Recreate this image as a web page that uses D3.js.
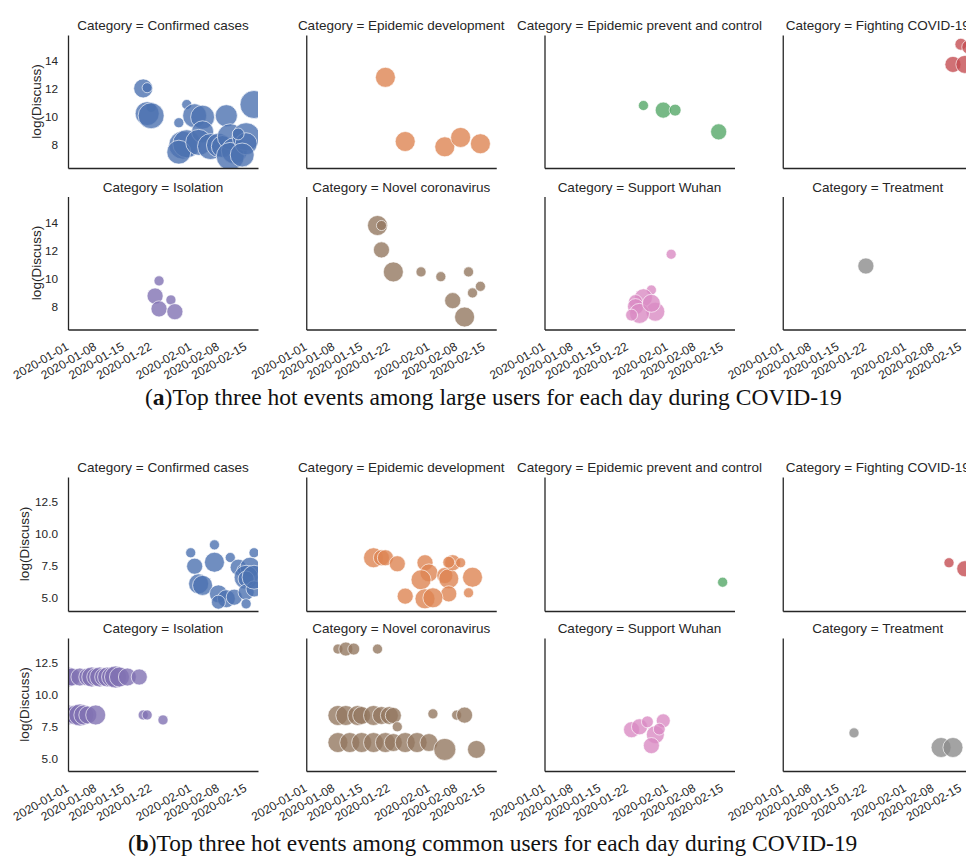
<!DOCTYPE html>
<html>
<head>
<meta charset="utf-8">
<script src="https://cdn.jsdelivr.net/npm/d3@7"></script>
<style>
  body { margin: 0; background: #fff; }
  svg { display: block; }
</style>
</head>
<body>
<svg id="chart" width="966" height="861"></svg>
<script>
// ---- categories, palette and ticks ----
const categories = [
  "Confirmed cases", "Epidemic development", "Epidemic prevent and control", "Fighting COVID-19",
  "Isolation", "Novel coronavirus", "Support Wuhan", "Treatment"
];
const palette = ["#4c72b0", "#dd8452", "#55a868", "#c44e52", "#8172b3", "#937860", "#da8bc3", "#8c8c8c"];
const xTickLabels = ["2020-01-01", "2020-01-08", "2020-01-15", "2020-01-22", "2020-02-01", "2020-02-08", "2020-02-15"];
const yTicksLarge = [8, 10, 12, 14];
const yTicksCommon = [5, 7.5, 10, 12.5];

// ---- (a) large users: [date, log(Discuss), size] ----
const largeConfirmed = [
  ["2020-01-20", 12.05, 46], ["2020-01-21", 12.1, 13], ["2020-01-22", 10.7, 13], ["2020-01-21", 10.25, 73],
  ["2020-01-22", 10.1, 86], ["2020-01-29", 9.6, 13], ["2020-01-31", 10.9, 13], ["2020-02-02", 10.1, 73],
  ["2020-02-04", 10.0, 73], ["2020-02-10", 10.1, 62], ["2020-02-17", 10.9, 100], ["2020-01-30", 8.0, 100],
  ["2020-01-31", 8.1, 100], ["2020-01-29", 7.5, 73], ["2020-02-04", 8.95, 62], ["2020-02-03", 8.2, 86],
  ["2020-02-06", 7.9, 86], ["2020-02-08", 8.0, 73], ["2020-02-09", 7.9, 62], ["2020-02-11", 8.6, 86],
  ["2020-02-12", 7.6, 86], ["2020-02-11", 7.2, 100], ["2020-02-15", 8.6, 100], ["2020-02-15", 8.1, 62],
  ["2020-02-14", 7.3, 73], ["2020-02-13", 8.8, 18]
];
const largeDevelopment = [
  ["2020-01-21", 12.84, 51], ["2020-01-26", 8.26, 51], ["2020-02-05", 7.88, 51], ["2020-02-09", 8.55, 51],
  ["2020-02-14", 8.1, 51]
];
const largePrevent = [
  ["2020-01-26", 10.83, 13], ["2020-01-31", 10.5, 33], ["2020-02-03", 10.5, 18], ["2020-02-14", 8.95, 33]
];
const largeFighting = [
  ["2020-02-13", 13.76, 33], ["2020-02-15", 15.2, 18], ["2020-02-16", 13.76, 41], ["2020-02-17", 15.0, 25]
];
const largeIsolation = [
  ["2020-01-24", 9.84, 13], ["2020-01-23", 8.76, 33], ["2020-01-24", 7.84, 33], ["2020-01-27", 8.48, 13],
  ["2020-01-28", 7.64, 33]
];
const largeNovel = [
  ["2020-01-19", 13.79, 51], ["2020-01-20", 13.79, 13], ["2020-01-20", 12.05, 33], ["2020-01-23", 10.48, 51],
  ["2020-01-30", 10.48, 13], ["2020-02-04", 10.14, 13], ["2020-02-11", 10.48, 13], ["2020-02-14", 9.45, 13],
  ["2020-02-12", 8.98, 13], ["2020-02-07", 8.43, 33], ["2020-02-10", 7.26, 51]
];
const largeSupport = [
  ["2020-02-02", 11.74, 13], ["2020-01-28", 9.19, 13], ["2020-01-26", 8.64, 41], ["2020-01-24", 8.36, 25],
  ["2020-01-24", 8.0, 33], ["2020-01-29", 7.64, 46], ["2020-01-25", 7.52, 51], ["2020-01-23", 7.4, 18],
  ["2020-01-28", 8.24, 41]
];
const largeTreatment = [["2020-01-22", 10.9, 33]];

// ---- (b) common users: [date, log(Discuss), size] ----
const commonConfirmed = [
  ["2020-02-01", 8.55, 13], ["2020-02-07", 9.17, 13], ["2020-02-11", 8.18, 13], ["2020-02-17", 8.55, 13],
  ["2020-02-02", 7.5, 33], ["2020-02-07", 7.81, 51], ["2020-02-13", 7.42, 33], ["2020-02-14", 7.24, 13],
  ["2020-02-16", 7.42, 51], ["2020-02-03", 6.12, 51], ["2020-02-04", 6.0, 51], ["2020-02-08", 5.34, 41],
  ["2020-02-10", 4.96, 41], ["2020-02-08", 4.69, 25], ["2020-02-12", 5.08, 33], ["2020-02-15", 6.64, 73],
  ["2020-02-15", 6.5, 33], ["2020-02-15", 5.47, 33], ["2020-02-15", 4.56, 13], ["2020-02-17", 5.73, 33],
  ["2020-02-17", 6.64, 73]
];
const commonDevelopment = [
  ["2020-01-18", 8.16, 51], ["2020-01-20", 8.16, 33], ["2020-01-21", 8.16, 33], ["2020-01-24", 7.69, 33],
  ["2020-01-31", 7.77, 33], ["2020-02-01", 6.98, 41], ["2020-01-30", 6.44, 51], ["2020-02-05", 6.77, 33],
  ["2020-02-06", 6.52, 51], ["2020-02-07", 7.77, 33], ["2020-02-09", 7.77, 13], ["2020-02-12", 6.64, 51],
  ["2020-02-11", 5.42, 13], ["2020-02-06", 5.34, 33], ["2020-01-26", 5.16, 33], ["2020-01-31", 4.95, 51],
  ["2020-02-02", 5.03, 51], ["2020-02-06", 7.81, 18]
];
const commonPrevent = [["2020-02-15", 6.25, 13]];
const commonFighting = [["2020-02-12", 7.77, 13], ["2020-02-16", 7.3, 33]];
const commonIsolation = [
  ["2020-01-01", 11.4, 51], ["2020-01-02", 11.4, 41], ["2020-01-04", 11.4, 41], ["2020-01-06", 11.4, 41],
  ["2020-01-07", 11.4, 51], ["2020-01-08", 11.4, 41], ["2020-01-09", 11.4, 51], ["2020-01-10", 11.4, 41],
  ["2020-01-11", 11.4, 51], ["2020-01-12", 11.4, 51], ["2020-01-13", 11.4, 62], ["2020-01-14", 11.4, 51],
  ["2020-01-16", 11.4, 41], ["2020-01-19", 11.4, 33],
  ["2020-01-01", 8.41, 51], ["2020-01-02", 8.41, 41], ["2020-01-03", 8.41, 51], ["2020-01-04", 8.41, 62],
  ["2020-01-05", 8.41, 51], ["2020-01-06", 8.41, 41], ["2020-01-08", 8.41, 51],
  ["2020-01-20", 8.41, 13], ["2020-01-21", 8.41, 13], ["2020-01-25", 8.02, 13]
];
const commonNovel = [
  ["2020-01-09", 13.6, 13], ["2020-01-11", 13.6, 25], ["2020-01-13", 13.6, 18], ["2020-01-19", 13.6, 13],
  ["2020-01-09", 8.37, 51], ["2020-01-11", 8.37, 51], ["2020-01-14", 8.37, 51], ["2020-01-15", 8.37, 41],
  ["2020-01-18", 8.37, 51], ["2020-01-20", 8.37, 41], ["2020-01-22", 8.37, 41], ["2020-01-23", 8.37, 33],
  ["2020-01-24", 7.48, 13], ["2020-02-02", 8.5, 13], ["2020-02-08", 8.4, 13], ["2020-02-10", 8.4, 33],
  ["2020-01-09", 6.24, 51], ["2020-01-12", 6.24, 51], ["2020-01-15", 6.24, 51], ["2020-01-18", 6.24, 51],
  ["2020-01-21", 6.24, 51], ["2020-01-23", 6.24, 41], ["2020-01-26", 6.24, 51], ["2020-01-29", 6.24, 51],
  ["2020-02-01", 6.24, 41], ["2020-02-05", 5.7, 62], ["2020-02-13", 5.7, 41]
];
const commonSupport = [
  ["2020-01-23", 7.25, 33], ["2020-01-25", 7.48, 33], ["2020-01-27", 7.87, 18], ["2020-01-29", 6.86, 41],
  ["2020-01-31", 7.95, 25], ["2020-01-28", 6.0, 33], ["2020-01-30", 7.3, 18]
];
const commonTreatment = [["2020-01-19", 7.0, 13], ["2020-02-10", 5.85, 51], ["2020-02-13", 5.85, 51]];

const largeUsers = [largeConfirmed, largeDevelopment, largePrevent, largeFighting,
  largeIsolation, largeNovel, largeSupport, largeTreatment];
const commonUsers = [commonConfirmed, commonDevelopment, commonPrevent, commonFighting,
  commonIsolation, commonNovel, commonSupport, commonTreatment];

// ---- layout ----
const panelW = 190;
const colX = c => 68 + c * 238.25;
const ink = "#262626";
const sans = "'Liberation Sans', Arial, sans-serif";

const figures = [
  {
    series: largeUsers, rows: [[35, 168], [196.5, 329.5]], yDomain: [6.37, 15.86],
    yTicks: yTicksLarge, fmt: d3.format("d"), ylabelX: 36,
    letter: "a", rest: "Top three hot events among large users for each day during COVID-19",
    capLeft: 145, capRight: 842, capY: 405
  },
  {
    series: commonUsers, rows: [[477, 611], [638, 771]], yDomain: [4.0, 14.47],
    yTicks: yTicksCommon, fmt: d3.format(".1f"), ylabelX: 24,
    letter: "b", rest: "Top three hot events among common users for each day during COVID-19",
    capLeft: 128, capRight: 858, capY: 851
  }
];

const parseDay = d3.utcParse("%Y-%m-%d");
const svg = d3.select("#chart");
svg.append("rect").attr("width", 966).attr("height", 861).attr("fill", "#fff");

const x = d3.scaleUtc()
  .domain([parseDay("2020-01-01"), parseDay("2020-02-18")])
  .range([0, panelW]);
const radius = d3.scaleSqrt().domain([0, 100]).range([0, 14]);

figures.forEach((fig, fi) => {
  fig.series.forEach((points, ci) => {
    const row = Math.floor(ci / 4), col = ci % 4;
    const [top, bottom] = fig.rows[row];
    const h = bottom - top;
    const y = d3.scaleLinear().domain(fig.yDomain).range([h, 0]);
    const g = svg.append("g").attr("transform", `translate(${colX(col)},${top})`);

    const clipId = `clip-${fi}-${ci}`;
    g.append("clipPath").attr("id", clipId)
      .append("rect").attr("width", panelW).attr("height", h);

    g.append("g").attr("clip-path", `url(#${clipId})`)
      .selectAll("circle").data(points).join("circle")
      .attr("cx", d => x(parseDay(d[0])))
      .attr("cy", d => y(d[1]))
      .attr("r", d => radius(d[2]))
      .attr("fill", palette[ci]).attr("fill-opacity", 0.8)
      .attr("stroke", "#fff").attr("stroke-opacity", 0.8).attr("stroke-width", 0.8);

    // left spine + tick labels
    const ay = g.append("g")
      .call(d3.axisLeft(y).tickValues(fig.yTicks).tickFormat(fig.fmt).tickSize(0).tickPadding(10));
    ay.attr("font-family", sans).attr("font-size", 11.8);
    ay.select(".domain").attr("stroke", ink).attr("stroke-width", 1.3);
    ay.selectAll(".tick text").attr("fill", ink);
    if (col > 0) ay.selectAll(".tick text").remove();

    // bottom spine + rotated date labels
    const ax = g.append("g").attr("transform", `translate(0,${h})`)
      .call(d3.axisBottom(x).tickValues(xTickLabels.map(parseDay))
        .tickFormat(d3.utcFormat("%Y-%m-%d")).tickSize(0));
    ax.attr("font-family", sans).attr("font-size", 12);
    ax.select(".domain").attr("stroke", ink).attr("stroke-width", 1.3);
    if (row === 0) {
      ax.selectAll(".tick text").remove();
    } else {
      ax.selectAll(".tick text")
        .attr("fill", ink).attr("y", 0).attr("dy", null)
        .attr("text-anchor", "end")
        .attr("transform", "translate(1,19.5) rotate(-30)");
    }

    // facet title
    g.append("text")
      .attr("x", panelW / 2).attr("y", -5)
      .attr("text-anchor", "middle")
      .attr("font-family", sans).attr("font-size", 13.5).attr("fill", ink)
      .text(`Category = ${categories[ci]}`);

    // y label on the first column
    if (col === 0) {
      svg.append("text")
        .attr("transform", `translate(${fig.ylabelX},${(top + bottom) / 2}) rotate(-90)`)
        .attr("text-anchor", "middle").attr("dy", "0.35em")
        .attr("font-family", sans).attr("font-size", 13.5).attr("fill", ink)
        .text("log(Discuss)");
    }
  });

  // caption below the figure
  const cap = svg.append("text")
    .attr("font-family", "'Liberation Serif', 'DejaVu Serif', serif")
    .attr("font-size", 23).attr("fill", "#111");
  cap.append("tspan").text("(");
  cap.append("tspan").attr("font-weight", "bold").text(fig.letter);
  cap.append("tspan").text(")" + fig.rest);
  const w = cap.node().getComputedTextLength();
  const sx = (fig.capRight - fig.capLeft) / w;
  cap.attr("transform", `translate(${fig.capLeft},${fig.capY}) scale(${sx},1)`);
});
</script>
</body>
</html>
